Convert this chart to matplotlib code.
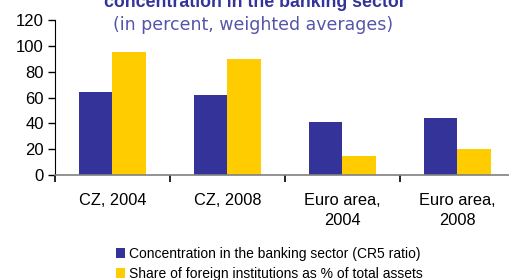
import matplotlib.pyplot as plt
import numpy as np

plt.rcParams['font.family'] = ['Liberation Sans', 'DejaVu Sans']

# data
categories = ["CZ, 2004", "CZ, 2008", "Euro area,\n2004", "Euro area,\n2008"]
cr5_ratio = [64, 62, 41, 44]
foreign_share = [95, 90, 15, 20]

blue = "#333399"
yellow = "#FFCC00"

fig = plt.figure(figsize=(5.09, 2.80), dpi=100)
ax = fig.add_axes([55 / 509, 105 / 280, 460 / 509, 155 / 280])

x = np.arange(len(categories))
w = 0.29
ax.bar(x - w / 2, cr5_ratio, width=w, color=blue,
       label="Concentration in the banking sector (CR5 ratio)")
ax.bar(x + w / 2, foreign_share, width=w, color=yellow,
       label="Share of foreign institutions as % of total assets")

ax.set_xlim(-0.5, len(categories) - 0.5)
ax.set_ylim(0, 120)
ax.set_yticks(range(0, 121, 20))
ax.set_xticks(x)
ax.set_xticklabels(categories, fontsize=11.8, linespacing=1.45)
ax.set_xticks(np.arange(-0.5, len(categories), 1), minor=True)
ax.tick_params(axis="x", which="major", length=0, pad=13)
ax.tick_params(axis="x", which="minor", length=5, width=1.2, color="black", direction="out")
ax.tick_params(axis="y", labelsize=12, length=5, width=1, direction="out", pad=3)

for s in ["top", "right"]:
    ax.spines[s].set_visible(False)
ax.spines["left"].set_color("black")
ax.spines["bottom"].set_color("#808080")
ax.spines["bottom"].set_linewidth(1.2)

# titles
fig.text(0.5, 1 - 7 / 280, "concentration in the banking sector", ha="center",
         va="baseline", fontsize=12.8, fontweight="bold", color=blue)
fig.text(0.497, 1 - 30 / 280, "(in percent, weighted averages)", ha="center",
         va="baseline", fontsize=12.5, color="#5555AA", family="DejaVu Sans")

fig.legend(loc="upper left", bbox_to_anchor=(110 / 509, 1 - 241 / 280),
           frameon=False, fontsize=10, handlelength=0.7, handleheight=0.7,
           handletextpad=0.3, labelspacing=0.45, borderaxespad=0)

plt.savefig("out.png", dpi=100)
